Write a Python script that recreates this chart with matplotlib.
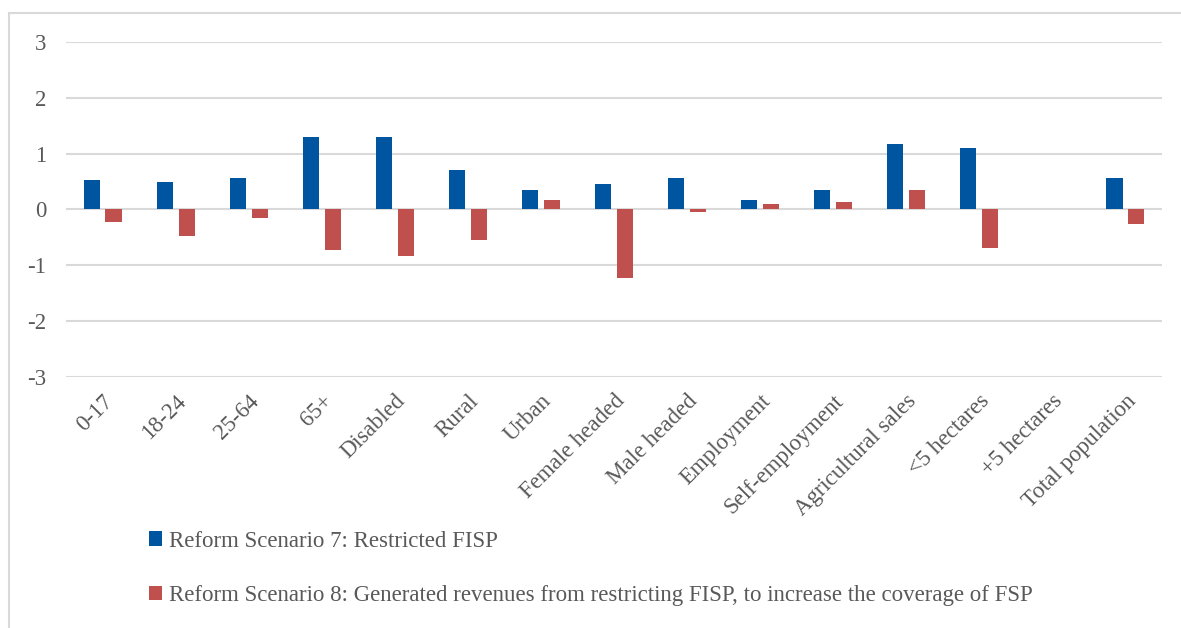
import numpy as np
import matplotlib.pyplot as plt
from matplotlib.patches import Rectangle


# 分组
categories = ['0-17', '18-24', '25-64', '65+', 'Disabled', 'Rural', 'Urban',
              'Female headed', 'Male headed', 'Employment', 'Self-employment',
              'Agricultural sales', '<5 hectares', '+5 hectares', 'Total population']

# 两种改革方案的变化
scenario7 = [0.53, 0.49, 0.56, 1.29, 1.29, 0.71, 0.35, 0.46, 0.56, 0.17, 0.35, 1.17, 1.10, 0.0, 0.56]
scenario8 = [-0.22, -0.47, -0.15, -0.72, -0.83, -0.54, 0.17, -1.23, -0.04, 0.10, 0.13, 0.35, -0.69, 0.0, -0.26]

labels = ['Reform Scenario 7: Restricted FISP',
          'Reform Scenario 8: Generated revenues from restricting FISP, to increase the coverage of FSP']

blue = '#0055A0'
red = '#C0504D'
text_color = '#595959'
grid_color = '#D9D9D9'
fs = 16.5

plt.rcParams['font.family'] = ['Liberation Serif', 'DejaVu Serif']
plt.rcParams['axes.unicode_minus'] = False

fig = plt.figure(figsize=(11.81, 6.28), dpi=100)
ax = fig.add_axes([0.0559, 0.400, 0.928, 0.533])

# 外框
fig.patches.append(Rectangle((9 / 1181, -0.1), 1.2, 1 - 13 / 628 + 0.1,
                             transform=fig.transFigure, fill=False,
                             edgecolor=grid_color, linewidth=1.5))

x = np.arange(len(categories))
w = 0.22
b7 = ax.bar(x - 0.15, scenario7, w, color=blue, label=labels[0], zorder=3)
b8 = ax.bar(x + 0.15, scenario8, w, color=red, label=labels[1], zorder=3)

ax.set_xlim(-0.5, len(categories) - 0.5)
ax.set_ylim(-3, 3)
ax.set_yticks(range(-3, 4))
ax.yaxis.grid(True, color=grid_color, linewidth=1.5, zorder=0)
ax.set_axisbelow(True)
for s in ax.spines.values():
    s.set_visible(False)
ax.tick_params(axis='both', length=0, colors=text_color, labelsize=fs)
ax.tick_params(axis='y', pad=14)
ax.set_xticks(x)
ax.set_xticklabels(categories, rotation=45, ha='right', rotation_mode='anchor')
ax.tick_params(axis='x', pad=10)

fig.legend(handles=[b7, b8], loc='upper left', bbox_to_anchor=(128 / 1181, 1 - 510 / 628),
           frameon=False, fontsize=fs, labelcolor=text_color,
           handlelength=0.57, handleheight=0.57, handletextpad=0.3,
           labelspacing=1.45)

fig.savefig('out.png', dpi=100)
